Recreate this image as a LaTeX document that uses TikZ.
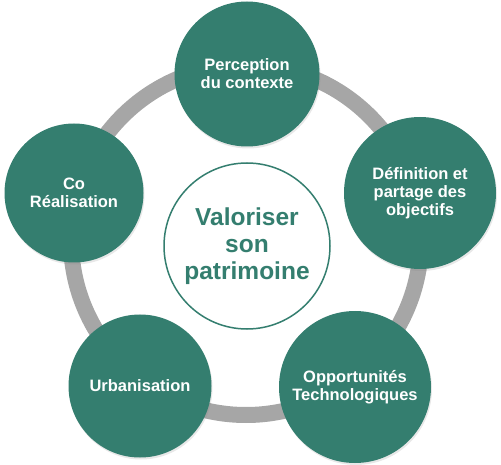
\documentclass[tikz,border=0pt]{standalone}
\usepackage{fontspec}
\setmainfont{Liberation Sans}
\usetikzlibrary{shadows}
\definecolor{petrol}{RGB}{52,126,111}
\definecolor{ringgray}{RGB}{166,166,166}
\tikzset{
  stage/.style={circle, fill=petrol, text=white, inner sep=0pt, align=center,
    font=\bfseries\fontsize{16.5}{17.8}\selectfont,
    drop shadow={opacity=0.18, shadow xshift=1pt, shadow yshift=-2pt}},
  hub/.style={circle, draw=petrol, line width=1.5pt, fill=white, text=petrol, inner sep=0pt,
    minimum size=166, align=center, font=\bfseries\fontsize{24.5}{27}\selectfont},
  ring/.style={draw=ringgray, line width=16pt}
}
\begin{document}
\begin{tikzpicture}[x=1pt, y=-1pt]
\useasboundingbox (0,0) rectangle (501,465);
% cycle ring behind the stages
\coordinate (ringc) at (246,240);
\draw[ring] (ringc) circle (175);
% centre
\node[hub] (goal) at (247,246) {Valoriser\\son\\patrimoine};
% stages
\node[stage, minimum size=145] (percep) at (247,74) {Perception\\du contexte};
\node[stage, minimum size=152] (defin) at (420,193) {Définition et\\partage des\\objectifs};
\node[stage, minimum size=152] (oppor) at (355,387) {Opportunités\\Technologiques};
\node[stage, minimum size=143] (urban) at (140,386) {Urbanisation};
\node[stage, minimum size=139] (coreal) at (74,193) {Co\\Réalisation};
\end{tikzpicture}
\end{document}
